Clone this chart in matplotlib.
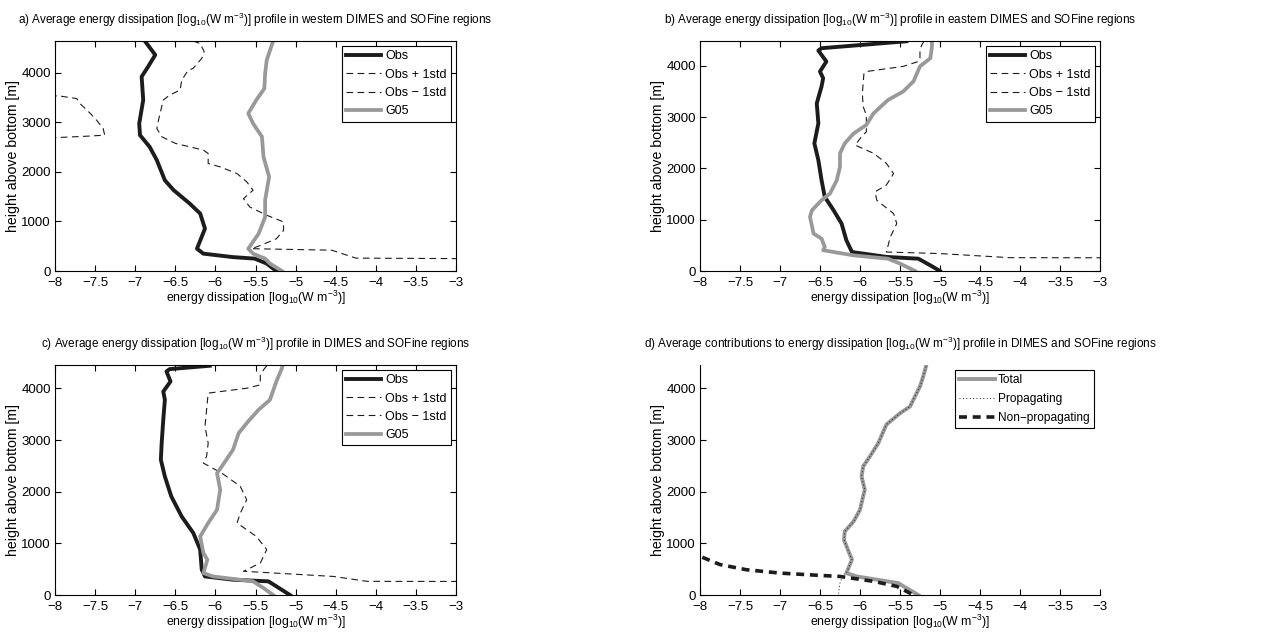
import numpy as np
import matplotlib
matplotlib.use("Agg")
import matplotlib.pyplot as plt

plt.rcParams['font.family'] = ['Liberation Sans', 'DejaVu Sans']
plt.rcParams['mathtext.fontset'] = 'custom'
plt.rcParams['mathtext.rm'] = 'Liberation Sans'
plt.rcParams['mathtext.it'] = 'Liberation Sans:italic'
plt.rcParams['font.size'] = 9

# ---- panel a : western regions ----
a_obs_x = [-6.88, -6.75, -6.84, -6.92, -6.90, -6.95, -6.94, -6.82, -6.73, -6.63, -6.52,
           -6.32, -6.19, -6.13, -6.23, -6.15, -5.78, -5.51, -5.36, -5.24]
a_obs_z = [4640, 4360, 4120, 3920, 3450, 2975, 2740, 2505, 2235, 1830, 1630,
           1360, 1160, 855, 450, 350, 280, 250, 150, 0]
a_g05_x = [-5.28, -5.36, -5.38, -5.39, -5.49, -5.59, -5.53, -5.42, -5.40, -5.33, -5.38,
           -5.38, -5.46, -5.59, -5.53, -5.38, -5.32, -5.17]
a_g05_z = [4640, 4255, 3985, 3680, 3450, 3180, 2975, 2710, 2300, 1900, 1430,
           1090, 755, 450, 350, 250, 150, 0]
a_plus_x = [-6.28, -6.19, -6.14, -6.17, -6.28, -6.34, -6.42, -6.44, -6.57, -6.65, -6.71,
            -6.73, -6.67, -6.50, -6.32, -6.15, -6.09, -6.09, -5.94, -5.73, -5.61, -5.53,
            -5.65, -5.57, -5.36, -5.15, -5.15, -5.24, -5.44, -5.55, -4.55, -4.25, -3.0, -2.5]
a_plus_z = [4640, 4590, 4425, 4290, 4085, 4050, 3850, 3650, 3550, 3450, 3040,
            2875, 2710, 2575, 2505, 2440, 2370, 2170, 2100, 1965, 1800, 1630,
            1460, 1290, 1125, 990, 820, 650, 515, 450, 420, 260, 250, 245]
a_minus_x = [-8.2, -7.94, -7.73, -7.69, -7.56, -7.48, -7.40, -7.38, -7.60, -8.0, -8.2]
a_minus_z = [3545, 3530, 3480, 3380, 3180, 3040, 2875, 2740, 2720, 2690, 2685]

# ---- panel b : eastern regions ----
b_obs_x = [-5.42, -6.48, -6.52, -6.42, -6.50, -6.46, -6.48, -6.54, -6.52, -6.57, -6.52,
           -6.48, -6.44, -6.33, -6.23, -6.17, -6.10, -5.67, -5.27, -5.12, -5.0]
b_obs_z = [4480, 4345, 4300, 4085, 3890, 3760, 3600, 3270, 2880, 2490, 2160,
           1770, 1445, 1185, 925, 600, 370, 275, 240, 110, 0]
b_g05_x = [-5.10, -5.10, -5.12, -5.25, -5.33, -5.46, -5.65, -5.83, -5.92, -6.08, -6.19,
           -6.25, -6.25, -6.29, -6.375, -6.48, -6.60, -6.625, -6.58, -6.48, -6.44, -6.46,
           -6.08, -5.65, -5.50, -5.31]
b_g05_z = [4480, 4380, 4150, 3990, 3700, 3500, 3335, 3075, 2850, 2680, 2490,
           2295, 2030, 1770, 1510, 1380, 1185, 1055, 730, 630, 470, 405,
           305, 240, 145, 0]
b_plus_x = [-5.20, -5.23, -5.25, -5.25, -5.27, -5.46, -5.92, -5.95, -5.97, -5.96, -5.92,
            -5.92, -5.98, -6.06, -5.83, -5.67, -5.58, -5.67, -5.81, -5.79, -5.58, -5.54,
            -5.62, -5.67, -5.0, -4.125, -3.0, -2.5]
b_plus_z = [4480, 4400, 4300, 4150, 4085, 3990, 3890, 3860, 3465, 3205, 3040,
            2715, 2620, 2455, 2295, 2100, 1900, 1675, 1545, 1380, 1120, 925,
            665, 370, 340, 260, 258, 255]
b_minus_x = [-7.46, -5.6]
b_minus_z = [4478, 4482]

# ---- panel c : all regions ----
c_obs_x = [-6.07, -6.57, -6.61, -6.56, -6.59, -6.65, -6.63, -6.65, -6.67, -6.68, -6.63,
           -6.55, -6.42, -6.275, -6.19, -6.17, -6.13, -5.78, -5.34, -5.24, -5.07]
c_obs_z = [4440, 4375, 4330, 4135, 4070, 3940, 3780, 3395, 2940, 2620, 2295,
           1910, 1520, 1200, 880, 490, 360, 297, 265, 168, 0]
c_g05_x = [-5.16, -5.17, -5.24, -5.32, -5.46, -5.59, -5.71, -5.78, -5.92, -5.98, -5.94,
           -5.98, -6.09, -6.19, -6.15, -6.10, -6.15, -6.03, -5.53, -5.40, -5.28]
c_g05_z = [4458, 4395, 4135, 3780, 3590, 3365, 3135, 2815, 2490, 2360, 2040,
           1650, 1395, 1135, 815, 685, 425, 360, 265, 135, 0]
c_plus_x = [-5.36, -5.40, -5.44, -5.44, -5.61, -6.09, -6.11, -6.13, -6.09, -6.11, -6.15,
            -5.92, -5.69, -5.61, -5.69, -5.73, -5.49, -5.36, -5.44, -5.65, -4.53, -4.11,
            -3.0, -2.5]
c_plus_z = [4440, 4360, 4265, 4070, 4005, 3910, 3585, 3265, 2940, 2685, 2555,
            2360, 2105, 1845, 1585, 1395, 1135, 880, 620, 460, 360, 265,
            263, 260]

# ---- panel d : contributions ----
d_tot_x = [-5.175, -5.21, -5.25, -5.375, -5.5, -5.67, -5.77, -5.875, -5.96, -5.98, -5.94,
           -6.0, -6.08, -6.19, -6.20, -6.15, -6.10, -6.17, -6.04, -5.52, -5.42, -5.27]
d_tot_z = [4425, 4230, 4040, 3650, 3520, 3300, 2945, 2685, 2490, 2295, 2040,
           1650, 1425, 1230, 1070, 875, 685, 425, 360, 230, 135, 0]
d_prop_x = [-5.175, -5.21, -5.25, -5.375, -5.5, -5.67, -5.77, -5.875, -5.96, -5.98, -5.94,
            -6.0, -6.08, -6.19, -6.20, -6.15, -6.10, -6.17, -6.21, -6.25, -6.27]
d_prop_z = [4425, 4230, 4040, 3650, 3520, 3300, 2945, 2685, 2490, 2295, 2040,
            1650, 1425, 1230, 1070, 875, 685, 425, 395, 230, 0]
d_nonp_x = [-8.3, -8.0, -7.75, -7.42, -7.0, -6.5, -6.25, -5.83, -5.54, -5.33]
d_nonp_z = [880, 750, 590, 490, 425, 380, 360, 265, 168, 0]

xticks = [-8, -7.5, -7, -6.5, -6, -5.5, -5, -4.5, -4, -3.5, -3]
xtick_labels = ['\u22128', '\u22127.5', '\u22127', '\u22126.5', '\u22126', '\u22125.5',
                '\u22125', '\u22124.5', '\u22124', '\u22123.5', '\u22123']
yticks = [0, 1000, 2000, 3000, 4000]

unit = r'[log$_{10}$(W m$^{-3}$)]'
titles = ['a) Average energy dissipation ' + unit + ' profile in western DIMES and SOFine regions',
          'b) Average energy dissipation ' + unit + ' profile in eastern DIMES and SOFine regions',
          'c) Average energy dissipation ' + unit + ' profile in DIMES and SOFine regions',
          'd) Average contributions to energy dissipation ' + unit + ' profile in DIMES and SOFine regions']

BLACK = '#1c1c1c'
GRAY = '#999999'

fig = plt.figure(figsize=(12.82, 6.32), dpi=100)
pos = [[0.0429, 0.5712, 0.3128, 0.3639],
       [0.5460, 0.5712, 0.3120, 0.3639],
       [0.0429, 0.0585, 0.3128, 0.3640],
       [0.5460, 0.0585, 0.3120, 0.3640]]
ymax = [4640, 4485, 4455, 4455]

axes = [fig.add_axes(p) for p in pos]

def setup(ax, i, box=True):
    ax.set_xlim(-8, -3)
    ax.set_ylim(0, ymax[i])
    ax.set_xticks(xticks)
    ax.set_xticklabels(xtick_labels)
    ax.set_yticks(yticks)
    ax.tick_params(direction='in', length=4, width=0.8, labelsize=9.5, pad=3,
                   top=box, right=box, colors='black')
    ax.tick_params(axis='x', pad=4)
    for s in ax.spines.values():
        s.set_linewidth(0.8)
        s.set_color('black')
    if not box:
        ax.spines['top'].set_visible(False)
        ax.spines['right'].set_visible(False)
    ax.set_xlabel('energy dissipation ' + unit, fontsize=8.8, labelpad=0)
    ax.set_ylabel('height above bottom [m]', fontsize=10.2, labelpad=1)
    ax.set_title(titles[i], fontsize=8.5, pad=12)

panels = [(a_obs_x, a_obs_z, a_plus_x, a_plus_z, a_minus_x, a_minus_z, a_g05_x, a_g05_z),
          (b_obs_x, b_obs_z, b_plus_x, b_plus_z, b_minus_x, b_minus_z, b_g05_x, b_g05_z),
          (c_obs_x, c_obs_z, c_plus_x, c_plus_z, None, None, c_g05_x, c_g05_z)]

for i, (ox, oz, px, pz, mx, mz, gx, gz) in enumerate(panels):
    ax = axes[i]
    ax.plot(ox, oz, color=BLACK, lw=2.8, label='Obs', solid_joinstyle='round')
    ax.plot(px, pz, color=BLACK, lw=0.8, dashes=(6, 4), label='Obs + 1std')
    if mx is not None:
        ax.plot(mx, mz, color=BLACK, lw=0.8, dashes=(6, 4), label='Obs \u2212 1std')
    else:
        ax.plot([], [], color=BLACK, lw=0.8, dashes=(6, 4), label='Obs \u2212 1std')
    ax.plot(gx, gz, color=GRAY, lw=2.7, label='G05', solid_joinstyle='round')
    setup(ax, i)
    leg = ax.legend(loc='upper right', fontsize=9, handlelength=2.8, handletextpad=0.3,
                    labelspacing=0.5, borderpad=0.35, borderaxespad=0.4, fancybox=False,
                    edgecolor='black', framealpha=1)
    leg.get_frame().set_linewidth(0.8)

ax = axes[3]
ax.plot(d_tot_x, d_tot_z, color=GRAY, lw=2.8, label='Total', solid_joinstyle='round')
ax.plot(d_prop_x, d_prop_z, color=BLACK, lw=0.7, dashes=(1, 2.5), label='Propagating')
ax.plot(d_nonp_x, d_nonp_z, color=BLACK, lw=2.6, dashes=(2.2, 1.6), label='Non\u2212propagating')
setup(ax, 3, box=False)
leg = ax.legend(loc='upper right', fontsize=8.6, handlelength=3.0, handletextpad=0.3,
                labelspacing=0.6, borderpad=0.35, borderaxespad=0.0, fancybox=False,
                edgecolor='black', framealpha=1, bbox_to_anchor=(0.985, 0.98))
leg.get_frame().set_linewidth(0.8)

fig.savefig('out.png', dpi=100)
